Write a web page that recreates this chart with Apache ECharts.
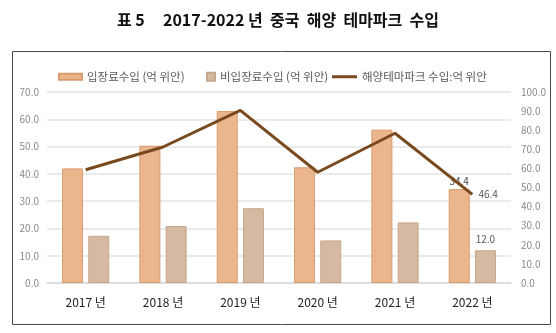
<!DOCTYPE html>
<html>
<head>
<meta charset="utf-8">
<style>
  html, body { margin: 0; padding: 0; background: #ffffff; }
  #chart { width: 556px; height: 333px; }
</style>
<script src="https://cdn.jsdelivr.net/npm/echarts@6/dist/echarts.min.js"></script>
</head>
<body>
<div id="chart"></div>
<script>
// Years on the category axis
const years = ['2017 년', '2018 년', '2019 년', '2020 년', '2021 년', '2022 년'];
// Ticket revenue (100 million yuan)
const ticketRevenue = [42.0, 50.3, 63.0, 42.4, 56.2, 34.4];
// Non-ticket revenue (100 million yuan)
const nonTicketRevenue = [17.3, 20.9, 27.4, 15.6, 22.2, 12.0];
// Total marine theme park revenue (100 million yuan)
const totalRevenue = [59.3, 71.2, 90.4, 58.0, 78.4, 46.4];
// Axis tick ranges
const leftAxisMax = 70;
const rightAxisMax = 100;
const tickStep = 10;

const FONT = '"Noto Sans CJK KR", "Noto Sans", sans-serif';
const labelGray = '#595959';

// Only the last year carries a value label
function withLastLabel(values, labelOpts) {
  return values.map((v, i) => i === values.length - 1
    ? { value: v, label: Object.assign({ show: true, formatter: (p) => p.value.toFixed(1) }, labelOpts) }
    : v);
}

const chart = echarts.init(document.getElementById('chart'), null, { renderer: 'canvas' });

chart.setOption({
  backgroundColor: '#ffffff',
  animation: false,
  title: {
    text: '표 5     2017-2022 년  중국  해양  테마파크  수입',
    left: 'center',
    top: 7,
    textStyle: { fontFamily: '"Noto Sans CJK KR", serif', fontWeight: 'bold', fontSize: 16, color: '#111' }
  },
  graphic: [{
    type: 'rect',
    shape: { x: 12.5, y: 51.5, width: 538, height: 273 },
    style: { fill: 'none', stroke: '#4a4a4a', lineWidth: 1 },
    z: -1
  }],
  legend: [
    {
      data: ['입장료수입 (억 위안)'],
      left: 53, top: 66,
      icon: 'rect',
      itemWidth: 23, itemHeight: 6, itemGap: 6,
      textStyle: { fontFamily: FONT, fontSize: 11.5, color: labelGray }
    },
    {
      data: ['비입장료수입 (억 위안)'],
      left: 201, top: 66,
      icon: 'rect',
      itemWidth: 8, itemHeight: 8, itemGap: 4,
      textStyle: { fontFamily: FONT, fontSize: 11.5, color: labelGray }
    },
    {
      data: ['해양테마파크 수입:억 위안'],
      left: 327, top: 66,
      itemWidth: 25, itemHeight: 3, itemGap: 16,
      icon: 'rect',
      textStyle: { fontFamily: FONT, fontSize: 11.5, color: labelGray }
    }
  ],
  grid: { left: 47, right: 45, top: 92, bottom: 50 },
  xAxis: {
    type: 'category',
    data: years,
    axisLine: { show: true, lineStyle: { color: '#d9d9d9', width: 1.5 } },
    axisTick: { show: false },
    axisLabel: { color: '#222', fontFamily: FONT, fontSize: 12, margin: 13 }
  },
  yAxis: [
    {
      type: 'value',
      min: 0, max: leftAxisMax, interval: tickStep,
      axisLine: { show: false },
      axisTick: { show: false },
      splitLine: { lineStyle: { color: '#e4e4e4', width: 1.5 } },
      axisLabel: { color: '#8a8a8a', fontFamily: FONT, fontSize: 10, margin: 8, formatter: (v) => v.toFixed(1) }
    },
    {
      type: 'value',
      min: 0, max: rightAxisMax, interval: tickStep,
      axisLine: { show: false },
      axisTick: { show: false },
      splitLine: { show: false },
      axisLabel: { color: '#8a8a8a', fontFamily: FONT, fontSize: 10, margin: 10, formatter: (v) => v.toFixed(1) }
    }
  ],
  series: [
    {
      name: '입장료수입 (억 위안)',
      type: 'bar',
      yAxisIndex: 0,
      barWidth: 21,
      barGap: '25%',
      itemStyle: { color: '#ebb68c', borderColor: '#d99b6d', borderWidth: 1 },
      label: { show: false },
      data: withLastLabel(ticketRevenue, { position: 'top', distance: 3, color: '#444', fontFamily: FONT, fontSize: 10 })
    },
    {
      name: '비입장료수입 (억 위안)',
      type: 'bar',
      yAxisIndex: 0,
      barWidth: 21,
      itemStyle: { color: '#d5baa3', borderColor: '#c8a68b', borderWidth: 1 },
      label: { show: false },
      data: withLastLabel(nonTicketRevenue, { position: 'top', distance: 6, color: labelGray, fontFamily: FONT, fontSize: 10 })
    },
    {
      name: '해양테마파크 수입:억 위안',
      type: 'line',
      yAxisIndex: 1,
      symbol: 'circle',
      symbolSize: 0.1,
      showSymbol: true,
      z: 5,
      lineStyle: { color: '#7a4a1f', width: 3 },
      itemStyle: { color: '#7a4a1f' },
      label: { show: false },
      data: withLastLabel(totalRevenue, { position: 'right', distance: 6, color: labelGray, fontFamily: FONT, fontSize: 10 })
    }
  ]
});
</script>
</body>
</html>
